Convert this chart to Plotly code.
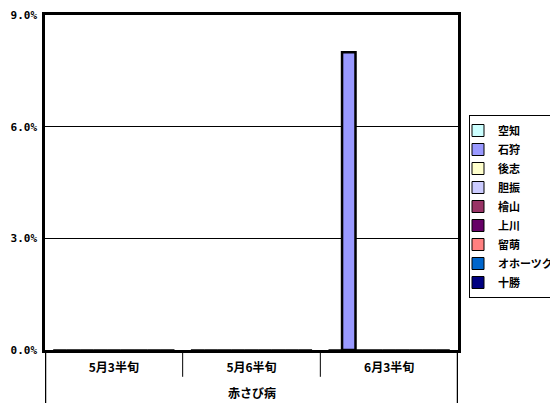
import plotly.graph_objects as go

categories = ["5月3半旬", "5月6半旬", "6月3半旬"]
group_label = "赤さび病"
series_names = ["空知", "石狩", "後志", "胆振", "檜山", "上川", "留萌", "オホーツク", "十勝"]
series_values = [
    [0, 0, 0],
    [0, 0, 0.080],
    [0, 0, 0],
    [0, 0, 0],
    [0, 0, 0],
    [0, 0, 0],
    [0, 0, 0],
    [0, 0, 0],
    [0, 0, 0],
]
series_colors = ["#CCFFFF", "#9999FF", "#FFFFCC", "#CCCCFF", "#993366",
                 "#660066", "#FF8080", "#0066CC", "#000080"]
y_ticks = [0, 0.03, 0.06, 0.09]

FONT = "Noto Sans CJK JP"

fig = go.Figure()
for name, vals, col in zip(series_names, series_values, series_colors):
    fig.add_trace(go.Bar(
        x=categories, y=vals, name=name,
        marker=dict(color=col,
                    line=dict(color="black",
                              width=[2.5 if v else 1 for v in vals])),
    ))

# page body adds an 8px margin, so the figure is drawn 8px smaller
W, H = 550, 400
L, T = 37, 7
PW, PH = 413, 335
R, B = W - L - PW, H - T - PH

fig.update_layout(
    width=W, height=H,
    margin=dict(l=L, r=R, t=T, b=B, autoexpand=False),
    paper_bgcolor="white", plot_bgcolor="white",
    barmode="group", bargap=0.12, bargroupgap=0,
    font=dict(family=FONT, size=12, color="black", weight="bold"),
    showlegend=True,
    legend=dict(
        xref="container", yref="container",
        x=461 / W, xanchor="left", y=1 - 107 / H, yanchor="top",
        bordercolor="black", borderwidth=1, bgcolor="white",
        font=dict(family=FONT, size=11, color="black", weight="bold"),
        itemwidth=30, tracegroupgap=0, indentation=-12,
    ),
    xaxis=dict(
        type="category", range=[-0.5, 2.5], automargin=False,
        showline=True, linecolor="black", linewidth=2.5, mirror=True,
        ticks="", showgrid=False, ticklabelstandoff=5,
        tickfont=dict(family=FONT, size=12, weight="bold"),
        layer="above traces",
    ),
    yaxis=dict(
        range=[0, 0.09], tickvals=y_ticks, tickformat=".1%", automargin=False,
        showline=True, linecolor="black", linewidth=2.5, mirror=True,
        showgrid=True, gridcolor="black", gridwidth=1,
        ticks="", zeroline=False, ticklabelstandoff=3,
        ticklabeloverflow="allow",
        tickfont=dict(family="DejaVu Sans Mono", size=11, weight="bold"),
        layer="above traces",
    ),
)

# category dividers below the axis
for i in range(len(categories) - 1):
    fig.add_shape(type="line", xref="x", yref="paper",
                  x0=i + 0.5, x1=i + 0.5, y0=0, y1=-0.08,
                  line=dict(color="black", width=1))
# side lines extending through the category-label area
for xv in [-0.5, len(categories) - 0.5]:
    fig.add_shape(type="line", xref="x", yref="paper",
                  x0=xv, x1=xv, y0=0, y1=-0.158,
                  line=dict(color="black", width=2.5))

fig.add_annotation(text=group_label, xref="paper", yref="paper",
                   x=0.5, y=-0.126, yanchor="middle", showarrow=False,
                   font=dict(family=FONT, size=12, weight="bold"))

fig.write_html("out.html")
